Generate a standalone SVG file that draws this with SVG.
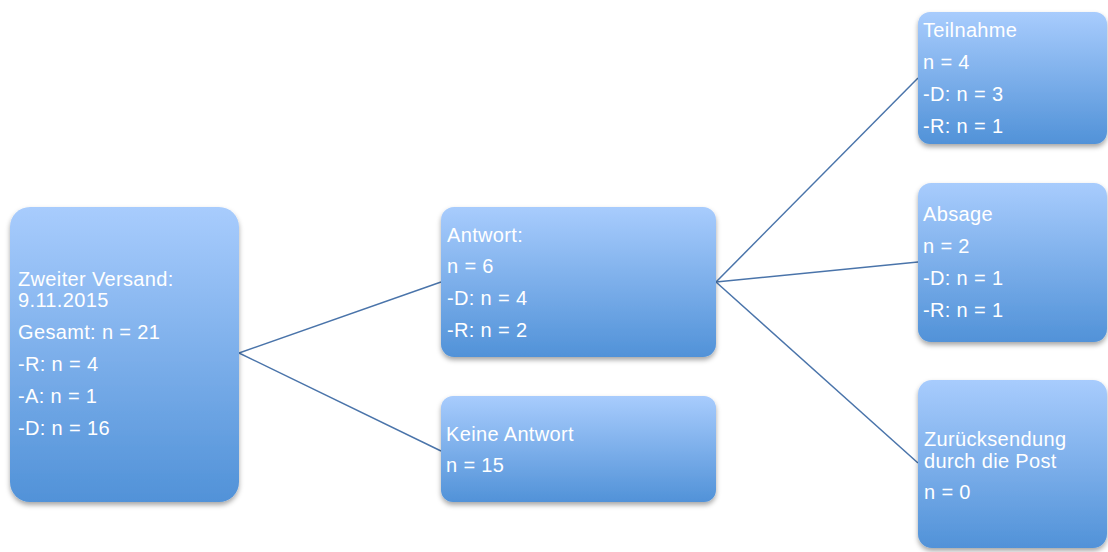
<svg xmlns="http://www.w3.org/2000/svg" width="1108" height="552" viewBox="0 0 1108 552">
<defs>
<linearGradient id="g" x1="0" y1="0" x2="0" y2="1">
<stop offset="0" stop-color="#a8ccfd"/>
<stop offset="1" stop-color="#5192d8"/>
</linearGradient>
<filter id="sh" x="-10%" y="-10%" width="120%" height="130%">
<feDropShadow dx="0" dy="3" stdDeviation="2.5" flood-color="#000" flood-opacity="0.35"/>
</filter>
<style>
.box{fill:url(#g);filter:url(#sh);}
.t{font-family:"Liberation Sans",Arial,sans-serif;font-size:20px;letter-spacing:0.35px;fill:#ffffff;}
.c{stroke:#4a74aa;stroke-width:1.5;fill:none;}
</style>
</defs>
<rect width="1108" height="552" fill="#ffffff"/>
<g id="connectors">
<line class="c" x1="239" y1="353" x2="441" y2="282"/>
<line class="c" x1="239" y1="353" x2="441" y2="451"/>
<line class="c" x1="716" y1="282" x2="918" y2="78"/>
<line class="c" x1="716" y1="282" x2="918" y2="262"/>
<line class="c" x1="716" y1="282" x2="918" y2="463"/>
</g>
<g id="n1">
<rect class="box" x="10" y="207" width="229" height="295" rx="20"/>
<text class="t" x="18" y="286">Zweiter Versand:</text>
<text class="t" x="18" y="307">9.11.2015</text>
<text class="t" x="18" y="339">Gesamt: n = 21</text>
<text class="t" x="18" y="371">-R: n = 4</text>
<text class="t" x="18" y="403">-A: n = 1</text>
<text class="t" x="18" y="435">-D: n = 16</text>
</g>
<g id="n2">
<rect class="box" x="441" y="207" width="275" height="150" rx="13"/>
<text class="t" x="447" y="242">Antwort:</text>
<text class="t" x="447" y="273">n = 6</text>
<text class="t" x="447" y="305">-D: n = 4</text>
<text class="t" x="447" y="337">-R: n = 2</text>
</g>
<g id="n3">
<rect class="box" x="441" y="396" width="275" height="106" rx="12"/>
<text class="t" x="446" y="441">Keine Antwort</text>
<text class="t" x="446" y="472">n = 15</text>
</g>
<g id="n4">
<rect class="box" x="918" y="12" width="189" height="132" rx="12"/>
<text class="t" x="923" y="37">Teilnahme</text>
<text class="t" x="923" y="69">n = 4</text>
<text class="t" x="923" y="101">-D: n = 3</text>
<text class="t" x="923" y="133">-R: n = 1</text>
</g>
<g id="n5">
<rect class="box" x="918" y="183" width="189" height="159" rx="13"/>
<text class="t" x="923" y="221">Absage</text>
<text class="t" x="923" y="253">n = 2</text>
<text class="t" x="923" y="285">-D: n = 1</text>
<text class="t" x="923" y="317">-R: n = 1</text>
</g>
<g id="n6">
<rect class="box" x="918" y="380" width="189" height="168" rx="14"/>
<text class="t" x="924" y="446">Zurücksendung</text>
<text class="t" x="924" y="468">durch die Post</text>
<text class="t" x="924" y="499">n = 0</text>
</g>
</svg>
